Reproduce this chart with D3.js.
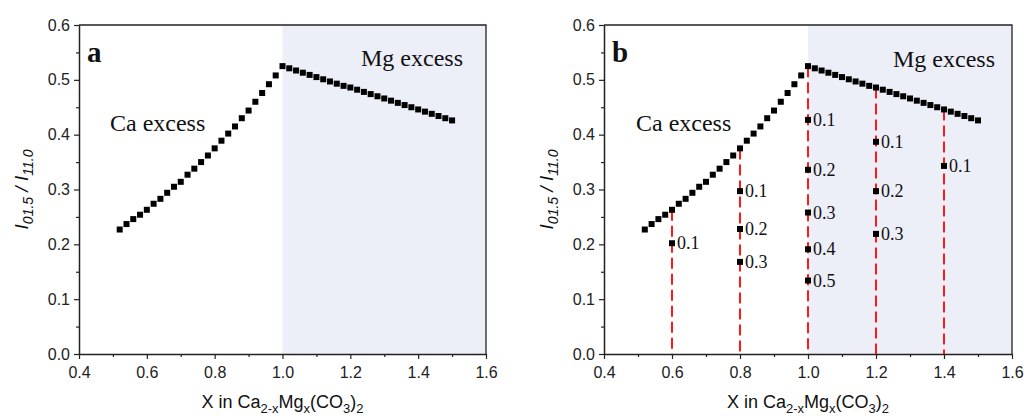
<!DOCTYPE html>
<html>
<head>
<meta charset="utf-8">
<script src="https://cdn.jsdelivr.net/npm/d3@7"></script>
<style>
  body { margin: 0; background: #fff; }
  svg { display: block; }
  .tick text { font-family: "Liberation Sans", Arial, sans-serif; font-size: 16px; fill: #222; }
  .serif { font-family: "Liberation Serif", "Times New Roman", serif; fill: #111; }
</style>
</head>
<body>
<svg id="chart" width="1024" height="416"></svg>
<script>
// main series, x in Ca(2-x)Mg(x)(CO3)2
var xMain = [0.52, 0.54, 0.56, 0.58, 0.60, 0.62, 0.64, 0.66, 0.68, 0.70,
             0.72, 0.74, 0.76, 0.78, 0.80, 0.82, 0.84, 0.86, 0.88, 0.90,
             0.92, 0.94, 0.96, 0.98, 1.00, 1.02, 1.04, 1.06, 1.08, 1.10,
             1.12, 1.14, 1.16, 1.18, 1.20, 1.22, 1.24, 1.26, 1.28, 1.30,
             1.32, 1.34, 1.36, 1.38, 1.40, 1.42, 1.44, 1.46, 1.48, 1.50];
var yMain = [0.227, 0.237, 0.246, 0.254, 0.263, 0.274, 0.283, 0.294, 0.305, 0.314,
             0.327, 0.338, 0.350, 0.362, 0.375, 0.389, 0.402, 0.415, 0.430, 0.444,
             0.460, 0.476, 0.492, 0.508, 0.525, 0.521, 0.517, 0.513, 0.509, 0.505,
             0.501, 0.497, 0.493, 0.489, 0.486, 0.482, 0.478, 0.474, 0.470, 0.466,
             0.462, 0.458, 0.454, 0.450, 0.446, 0.442, 0.438, 0.434, 0.430, 0.426];

// dashed drop lines (panel b)
var dropX = [0.6, 0.8, 1.0, 1.2, 1.4];
var dropTop = [0.263, 0.375, 0.525, 0.486, 0.446];

// extra points on the drop lines (panel b)
var subX = [0.6, 0.8, 0.8, 0.8, 1.0, 1.0, 1.0, 1.0, 1.0, 1.2, 1.2, 1.2, 1.4];
var subY = [0.202, 0.297, 0.228, 0.168, 0.427, 0.336, 0.258, 0.191, 0.134, 0.387, 0.297, 0.219, 0.343];
var subLabel = ["0.1", "0.1", "0.2", "0.3", "0.1", "0.2", "0.3", "0.4", "0.5", "0.1", "0.2", "0.3", "0.1"];

var xTicks = [0.4, 0.6, 0.8, 1.0, 1.2, 1.4, 1.6];
var xMinor = [0.5, 0.7, 0.9, 1.1, 1.3, 1.5];
var yTicks = [0.0, 0.1, 0.2, 0.3, 0.4, 0.5, 0.6];
var yMinor = [0.05, 0.15, 0.25, 0.35, 0.45, 0.55];

var svg = d3.select("#chart");
var top_ = 25, bottom = 354;

var panels = [
  {name: "a", left: 79, right: 486, drops: false, ca: [110, 131], mg: [361, 66]},
  {name: "b", left: 604, right: 1012, drops: true, ca: [636, 131], mg: [893, 67]}
];

panels.forEach(function(p){
  var x = d3.scaleLinear().domain([0.4, 1.6]).range([p.left, p.right]);
  var y = d3.scaleLinear().domain([0, 0.6]).range([bottom, top_]);
  var g = svg.append("g");

  // Mg excess shading
  g.append("rect")
    .attr("x", x(1.0)).attr("y", top_)
    .attr("width", x(1.6) - x(1.0)).attr("height", bottom - top_)
    .attr("fill", "#eceef8");

  // frame top/right
  g.append("path")
    .attr("d", "M" + p.left + "," + top_ + "H" + p.right + "V" + bottom)
    .attr("fill", "none").attr("stroke", "#222").attr("stroke-width", 1.3);

  // axes
  g.append("g").attr("transform", "translate(0," + bottom + ")")
    .call(d3.axisBottom(x).tickValues(xTicks).tickSize(5).tickPadding(8).tickSizeOuter(0).tickFormat(d3.format(".1f")));
  g.append("g").attr("transform", "translate(0," + bottom + ")")
    .call(d3.axisBottom(x).tickValues(xMinor).tickSize(3).tickFormat("").tickSizeOuter(0))
    .select(".domain").remove();
  g.append("g").attr("transform", "translate(" + p.left + ",0)")
    .call(d3.axisLeft(y).tickValues(yTicks).tickSize(5).tickPadding(4).tickSizeOuter(0).tickFormat(d3.format(".1f")));
  g.append("g").attr("transform", "translate(" + p.left + ",0)")
    .call(d3.axisLeft(y).tickValues(yMinor).tickSize(3).tickFormat("").tickSizeOuter(0))
    .select(".domain").remove();
  g.selectAll(".domain").attr("stroke", "#222").attr("stroke-width", 1.5);
  g.selectAll(".tick line").attr("stroke", "#222").attr("stroke-width", 1.2);

  if (p.drops) {
    g.selectAll(".drop")
      .data(dropX)
      .enter().append("line")
      .attr("class", "drop")
      .attr("x1", function(d){ return x(d); })
      .attr("x2", function(d){ return x(d); })
      .attr("y1", function(d, i){ return y(dropTop[i]); })
      .attr("y2", y(0))
      .attr("stroke", "#ff1a1a").attr("stroke-width", 2)
      .attr("stroke-dasharray", "11,5");
  }

  // main squares
  g.selectAll(".pt")
    .data(xMain)
    .enter().append("rect")
    .attr("class", "pt")
    .attr("x", function(d){ return x(d) - 3; })
    .attr("y", function(d, i){ return y(yMain[i]) - 3; })
    .attr("width", 6).attr("height", 6)
    .attr("fill", "#000");

  if (p.drops) {
    g.selectAll(".sub")
      .data(subX)
      .enter().append("rect")
      .attr("class", "sub")
      .attr("x", function(d){ return x(d) - 3; })
      .attr("y", function(d, i){ return y(subY[i]) - 3; })
      .attr("width", 6).attr("height", 6)
      .attr("fill", "#000");

    g.selectAll(".sublab")
      .data(subX)
      .enter().append("text")
      .attr("class", "serif sublab")
      .attr("x", function(d){ return x(d) + 5; })
      .attr("y", function(d, i){ return y(subY[i]) + 6; })
      .attr("font-size", 18)
      .attr("fill", "#333")
      .text(function(d, i){ return subLabel[i]; });
  }

  g.append("text").attr("class", "serif")
    .attr("x", p.ca[0]).attr("y", p.ca[1])
    .attr("font-size", 24).text("Ca excess");
  g.append("text").attr("class", "serif")
    .attr("x", p.mg[0]).attr("y", p.mg[1])
    .attr("font-size", 24).text("Mg excess");
  g.append("text").attr("class", "serif")
    .attr("x", p.left + 8).attr("y", 62)
    .attr("font-size", 29).attr("font-weight", "bold")
    .text(p.name);

  // x label
  var xl = g.append("text")
    .attr("x", (p.left + p.right) / 2).attr("y", 408)
    .attr("text-anchor", "middle")
    .attr("font-family", "Liberation Sans, Arial, sans-serif")
    .attr("font-size", 18).attr("fill", "#111");
  xl.append("tspan").text("X in Ca");
  xl.append("tspan").attr("font-size", 13).attr("dy", 5).text("2-x");
  xl.append("tspan").attr("dy", -5).text("Mg");
  xl.append("tspan").attr("font-size", 13).attr("dy", 5).text("x");
  xl.append("tspan").attr("dy", -5).text("(CO");
  xl.append("tspan").attr("font-size", 13).attr("dy", 5).text("3");
  xl.append("tspan").attr("dy", -5).text(")");
  xl.append("tspan").attr("font-size", 13).attr("dy", 5).text("2");

  // y label
  var yl = g.append("text")
    .attr("transform", "translate(" + (p.left - 51) + "," + ((top_ + bottom) / 2) + ") rotate(-90)")
    .attr("text-anchor", "middle")
    .attr("font-family", "Liberation Sans, Arial, sans-serif")
    .attr("font-style", "italic")
    .attr("font-size", 19).attr("fill", "#111");
  yl.append("tspan").text("I");
  yl.append("tspan").attr("font-size", 14).attr("dy", 5).text("01.5");
  yl.append("tspan").attr("dy", -5).text(" / I");
  yl.append("tspan").attr("font-size", 14).attr("dy", 5).text("11.0");
});
</script>
</body>
</html>
